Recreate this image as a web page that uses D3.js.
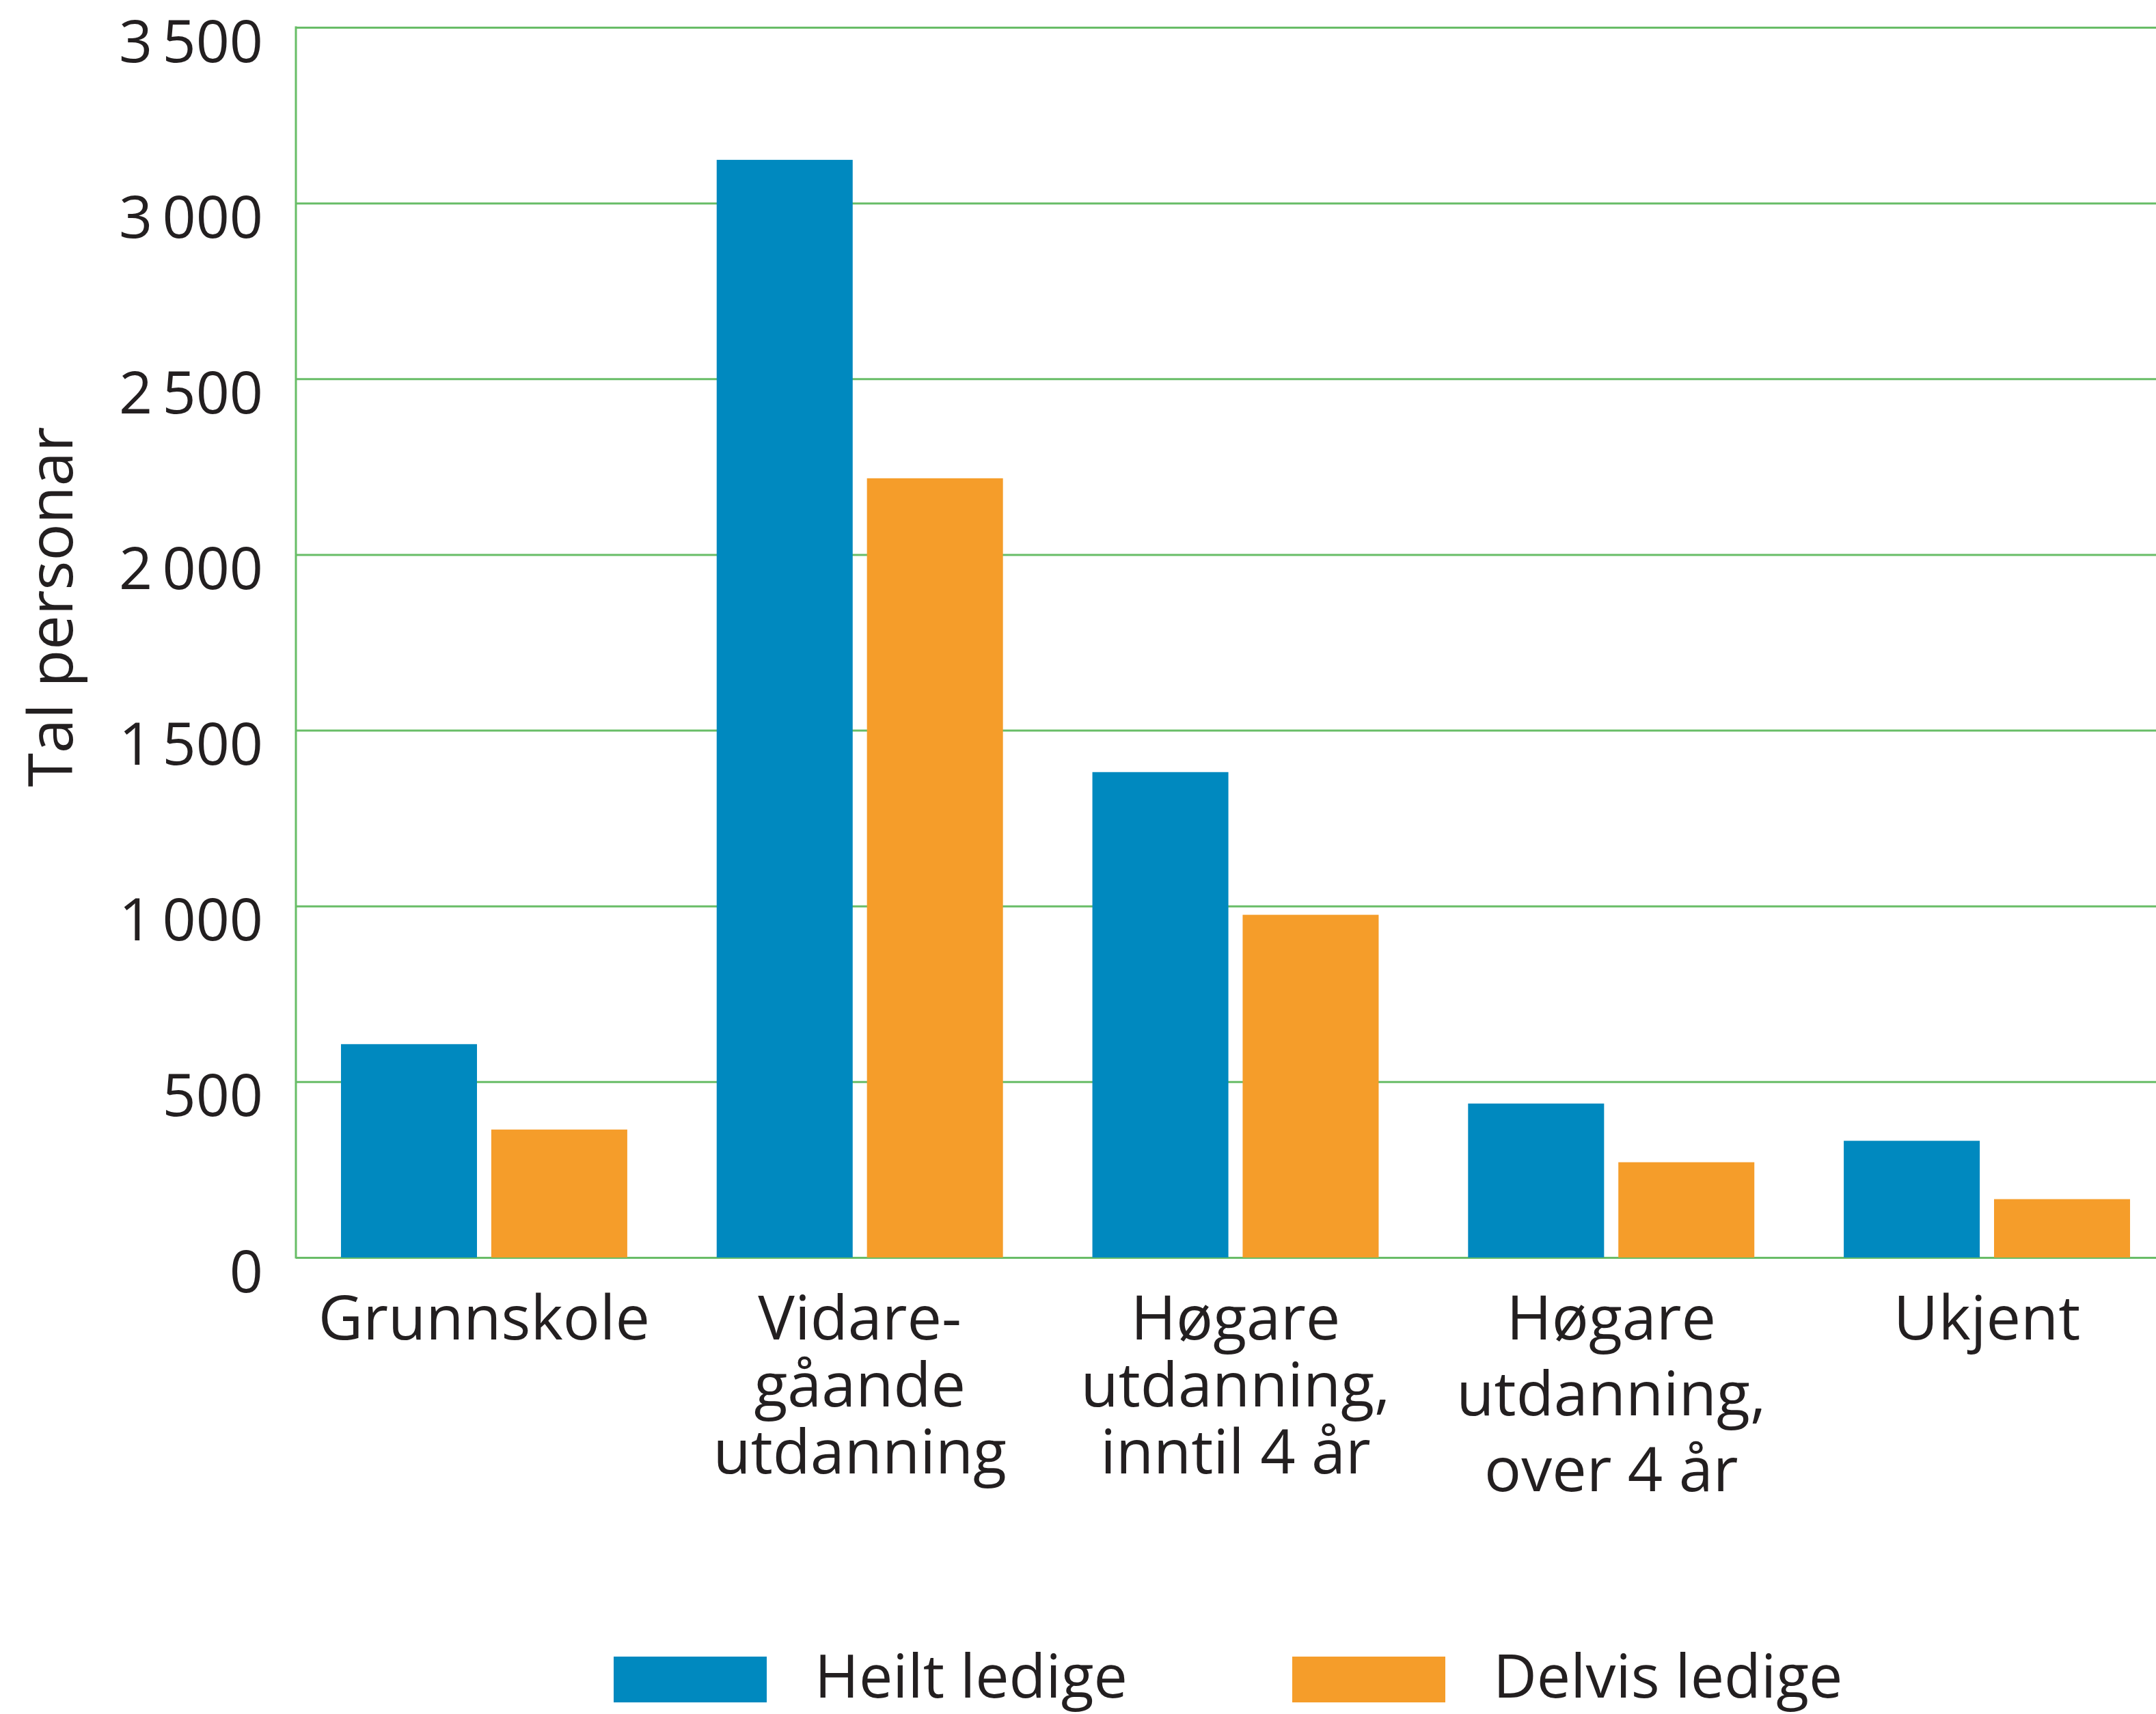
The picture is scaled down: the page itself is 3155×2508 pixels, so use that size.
<!DOCTYPE html>
<html>
<head>
<meta charset="utf-8">
<script src="https://cdn.jsdelivr.net/npm/d3@7"></script>
<style>
    body { margin: 0; background: #fff; }
    text { font-family: 'Open Sans', sans-serif; fill: #231f20; }
</style>
</head>
<body>
<svg id="chart" width="3155" height="2508"></svg>
<script>
const categories = ['Grunnskole', 'Vidare-\ngåande\nutdanning', 'Høgare\nutdanning,\ninntil 4 år', 'Høgare\nutdanning,\nover 4 år', 'Ukjent']
const seriesNames = ['Heilt ledige', 'Delvis ledige']
const heiltLedige = [607, 3123, 1381, 438, 332]
const delvisLedige = [364, 2217, 975, 271, 166]
const yTicks = [0, 500, 1000, 1500, 2000, 2500, 3000, 3500]
const yTitle = 'Tal personar'

const colors = ['#0089bf', '#f59d2a']
const gridColor = '#68bd67'

const W = 3155
const margin = { left: 433, top: 40, bottom: 1840 }
const svg = d3.select('#chart')

const rows = categories.map((c, i) => ({ cat: c, values: [heiltLedige[i], delvisLedige[i]] }))

let x = d3.scaleBand()
    .domain(categories)
    .range([margin.left, margin.left + 2750])
    .paddingInner(0.238)
    .paddingOuter(0.12)

let xSub = d3.scaleBand()
    .domain(d3.range(seriesNames.length))
    .range([0, x.bandwidth()])
    .paddingInner(0.095)

let y = d3.scaleLinear()
    .domain([0, 3500])
    .range([margin.bottom, margin.top])

const locale = d3.formatLocale({ decimal: ',', thousands: '\u2009', grouping: [3], currency: ['', ' kr'] })
const fmt = locale.format(',d')

// gridlines + tick labels
const yAxis = svg.append('g')
    .attr('transform', `translate(${margin.left},0)`)
    .call(d3.axisLeft(y).tickValues(yTicks).tickSize(-(W - margin.left)).tickPadding(48).tickFormat(fmt))

yAxis.select('.domain').remove()
yAxis.selectAll('.tick line')
    .attr('stroke', gridColor)
    .attr('stroke-width', 3)
yAxis.selectAll('.tick text')
    .attr('dy', 50)
    .style('font-size', '86px')
    .style('fill', '#231f20')

// bars
svg.append('g')
    .selectAll('g')
    .data(rows)
    .enter()
    .append('g')
    .attr('transform', d => `translate(${x(d.cat)},0)`)
    .selectAll('rect')
    .data(d => d.values)
    .enter()
    .append('rect')
    .attr('x', (d, i) => xSub(i))
    .attr('y', d => y(d))
    .attr('width', xSub.bandwidth())
    .attr('height', d => y(0) - y(d))
    .attr('fill', (d, i) => colors[i])

// left axis line
svg.append('line')
    .attr('x1', margin.left)
    .attr('x2', margin.left)
    .attr('y1', y(3500) - 1.5)
    .attr('y2', y(0) + 1.5)
    .attr('stroke', gridColor)
    .attr('stroke-width', 3)

// category labels, one text per line
const lineGap = { 'Høgare\nutdanning,\nover 4 år': 111 }
const labelLines = []
categories.forEach(c => {
    c.split('\n').forEach((l, i) => labelLines.push({ cat: c, line: l, i: i }))
})

svg.append('g')
    .selectAll('text')
    .data(labelLines)
    .enter()
    .append('text')
    .attr('text-anchor', 'middle')
    .attr('x', d => x(d.cat) + x.bandwidth() / 2)
    .attr('y', d => 1960 + d.i * (lineGap[d.cat] || 98))
    .style('font-size', '90px')
    .text(d => d.line)

// y title
svg.append('text')
    .attr('transform', 'translate(106,888) rotate(-90)')
    .attr('text-anchor', 'middle')
    .style('font-size', '90px')
    .text(yTitle)

// legend
const legendX = [898, 1891]
const legend = svg.append('g')
    .selectAll('g')
    .data(seriesNames)
    .enter()
    .append('g')
    .attr('transform', (d, i) => `translate(${legendX[i]},2424)`)

legend.append('rect')
    .attr('width', 224)
    .attr('height', 67)
    .attr('fill', (d, i) => colors[i])

legend.append('text')
    .attr('x', 294)
    .attr('y', 60)
    .style('font-size', '88px')
    .text(d => d)
</script>
</body>
</html>
